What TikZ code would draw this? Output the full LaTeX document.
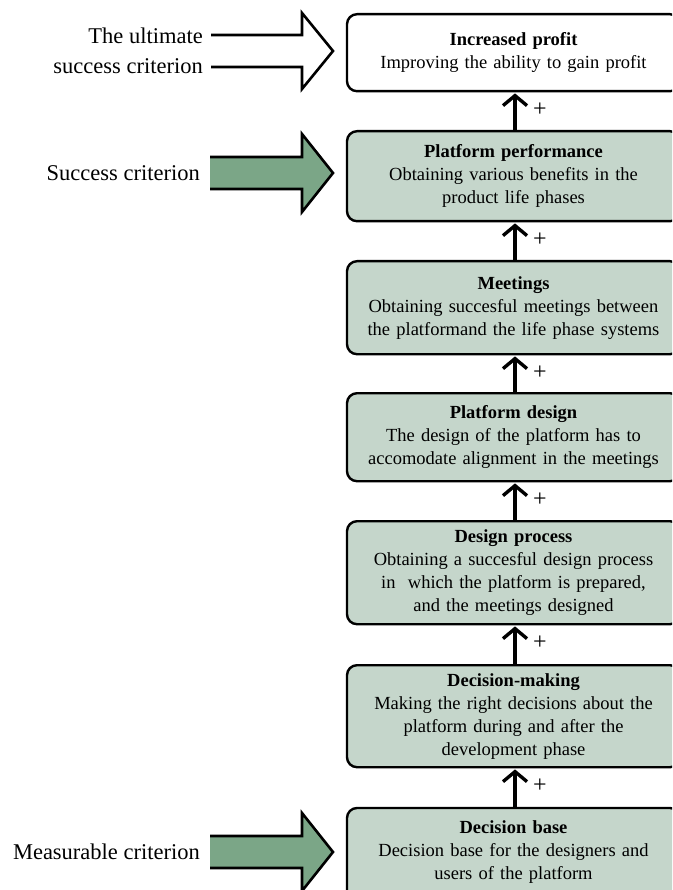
\documentclass[tikz,border=0pt]{standalone}
\usepackage{fontspec}
\setmainfont{Liberation Serif}
\usetikzlibrary{arrows.meta}

\definecolor{boxfill}{HTML}{C5D6CB}
\definecolor{arrowfill}{HTML}{7BA687}

\tikzset{
  stage/.style={draw=black, line width=2.4pt, rounded corners=10pt,
    text width=320pt, inner xsep=6.5pt, inner ysep=0pt, align=center,
    anchor=north, font=\fontsize{18.5}{23}\selectfont},
  filledstage/.style={stage, fill=boxfill},
  stageframe/.style={draw=black, line width=2.4pt, rounded corners=10pt, fill=boxfill},
  lift/.style={line width=3.4pt, shorten >=1pt,
    -{Straight Barb[length=10pt,width=24pt]}},
  plus/.style={font=\fontsize{24}{24}\selectfont, inner sep=0pt},
  sidelabel/.style={anchor=east, inner sep=0pt,
    font=\fontsize{22.5}{27}\selectfont},
  bigarrow/.style={line width=2.6pt, line join=miter},
}

\begin{document}
\begin{tikzpicture}[x=1pt, y=-1pt]
  \useasboundingbox (0,0) rectangle (672,890);
  \clip (0,0) rectangle (672,890);

  % stages of the chain, top to bottom
  \node[stage, minimum height=77pt] (profit) at (513.5,13)
    {\textbf{Increased profit}\\Improving the ability to gain profit};
  \node[filledstage, minimum height=90pt] (perf) at (513.5,130)
    {\textbf{Platform performance}\\Obtaining various benefits in the\\product life phases};
  \node[filledstage, minimum height=93pt] (meet) at (513.5,260)
    {\textbf{Meetings}\\Obtaining succesful meetings between\\the platformand the life phase systems};
  \node[filledstage, minimum height=88pt] (pdesign) at (513.5,392)
    {\textbf{Platform design}\\The design of the platform has to\\accomodate alignment in the meetings};
  \node[filledstage, minimum height=103pt] (process) at (513.5,520)
    {\textbf{Design process}\\Obtaining a succesful design process\\in~~which the platform is prepared,\\and the meetings designed};
  \node[filledstage, minimum height=102pt] (decide) at (513.5,664)
    {\textbf{Decision-making}\\Making the right decisions about the\\platform during and after the\\development phase};

  % the lowest stage runs on past the bottom edge
  \path[stageframe] (347,920) |- (680,808) -- (680,920);
  \node[stage, draw=none, minimum height=86pt] (base) at (513.5,808)
    {\textbf{Decision base}\\Decision base for the designers and\\users of the platform};

  % positive influences between stages
  \foreach \lo/\hi in {perf/profit, meet/perf, pdesign/meet, process/pdesign,
                       decide/process, base/decide} {
    \draw[lift] ([xshift=1.5pt]\lo.north) -- ([xshift=1.5pt]\hi.south);
    \path ([xshift=1.5pt]\hi.south) ++(25,17) node[plus] (plus-\hi) {+};
  }

  % criteria on the left
  \node[sidelabel] (ultA) at (203,36) {The ultimate};
  \node[sidelabel] (ultB) at (203,66) {success criterion};
  \node[sidelabel] (succ) at (200,173) {Success criterion};
  \node[sidelabel] (meas) at (200,852) {Measurable criterion};

  % open arrow for the ultimate criterion
  \draw[bigarrow, fill=white]
    (211,35) -- (302,35) -- (302,13) -- (333,51) -- (302,89) -- (302,67) -- (211,67);

  % solid arrows for the other criteria
  \foreach \cy in {173,852} {
    \draw[bigarrow, fill=arrowfill]
      (210,\cy-16) -- (302,\cy-16) -- (302,\cy-39) -- (333,\cy)
      -- (302,\cy+39) -- (302,\cy+16) -- (210,\cy+16);
  }
\end{tikzpicture}
\end{document}
